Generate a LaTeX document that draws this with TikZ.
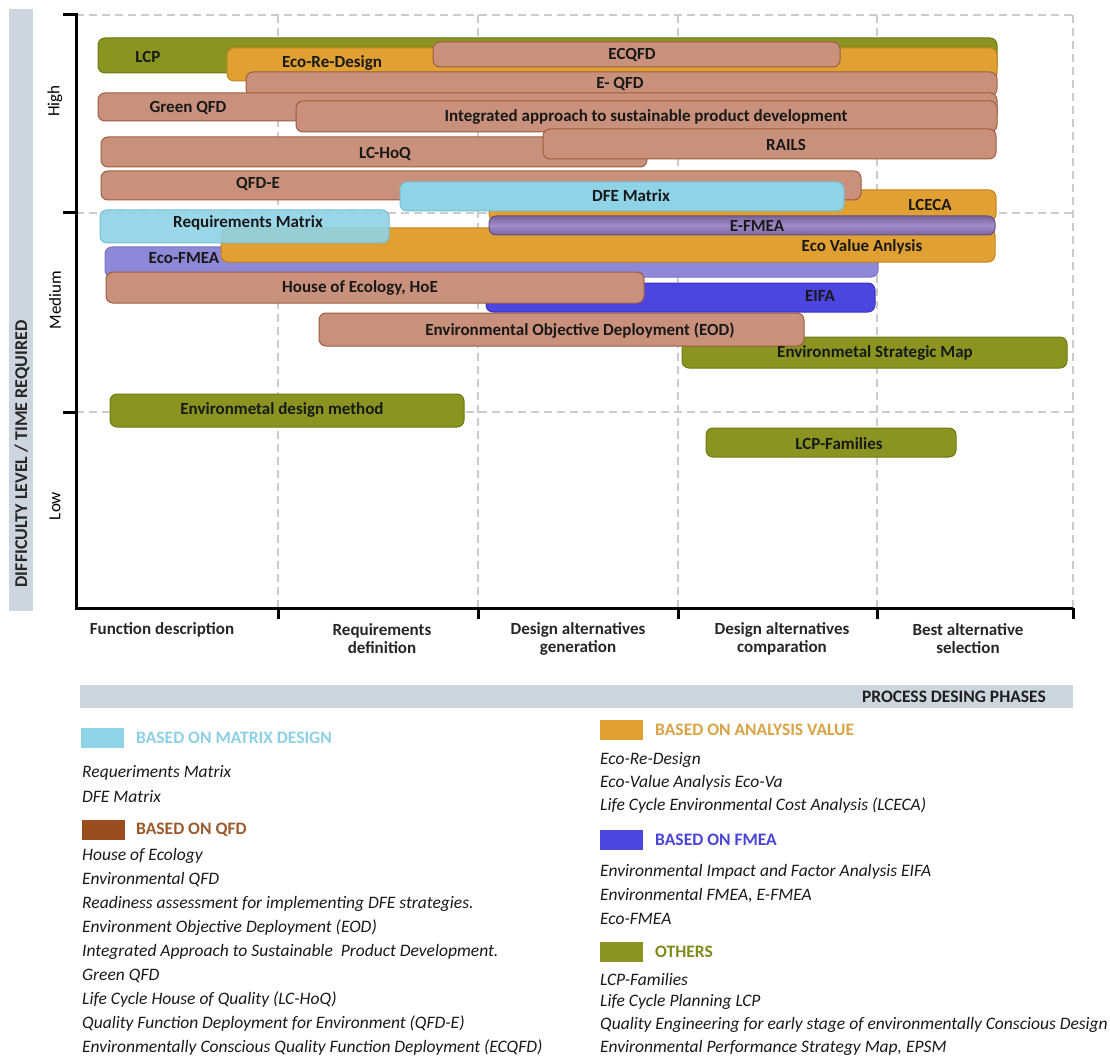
\documentclass[tikz,border=0pt]{standalone}
\usepackage{fontspec}
\setmainfont{Carlito}
\definecolor{qfdfill}{HTML}{C9917B}
\definecolor{qfdline}{HTML}{9C5E42}
\definecolor{valfill}{HTML}{E1A032}
\definecolor{valline}{HTML}{C0841E}
\definecolor{othfill}{HTML}{8A9420}
\definecolor{othline}{HTML}{6E7814}
\definecolor{matfill}{HTML}{8FD3E6}
\definecolor{matline}{HTML}{78BCD2}
\definecolor{efmdark}{HTML}{7A6498}
\definecolor{efmlight}{HTML}{A08CCC}
\definecolor{efmline}{HTML}{634E86}
\definecolor{ecofill}{HTML}{8F88D8}
\definecolor{ecoline}{HTML}{7A72C4}
\definecolor{eifafill}{HTML}{4C45E0}
\definecolor{eifaline}{HTML}{3A33C0}
\definecolor{gridgray}{HTML}{CCCCCC}
\definecolor{bandgray}{HTML}{CDD5DE}
\definecolor{qfdkey}{HTML}{9A4D1E}
\definecolor{qfdtext}{HTML}{9A5A2C}
\definecolor{valtext}{HTML}{D9A245}
\definecolor{mattext}{HTML}{8CCFE6}
\definecolor{fmeatext}{HTML}{4A44D6}
\definecolor{othtext}{HTML}{7E8A1A}
\pgfdeclarelayer{labels}
\pgfsetlayers{main,labels}
% one method bar: name, style, x1, y1, x2, y2, label x, label y, label
\newcommand\methodbar[9]{%
  \node[#2, minimum width={#5pt-#3pt}, minimum height={#6pt-#4pt}]
    (#1) at ({(#3+#5)/2},{(#4+#6)/2}) {};
  \begin{pgfonlayer}{labels}
    \node[barlabel] (#1-label) at (#7,#8) {#9};
  \end{pgfonlayer}}
\begin{document}
\begin{tikzpicture}[x=1pt,y=-1pt,
  gridline/.style={draw=gridgray, line width=1.3pt, dash pattern=on 8pt off 5pt},
  axisline/.style={line width=3pt, line cap=butt},
  tickmark/.style={line width=3pt},
  barbase/.style={rectangle, rounded corners=7pt, inner sep=0pt, outer sep=0pt, line width=1pt},
  qfd/.style={barbase, fill=qfdfill, draw=qfdline},
  val/.style={barbase, fill=valfill, draw=valline},
  oth/.style={barbase, fill=othfill, draw=othline},
  mat/.style={barbase, fill=matfill, draw=matline},
  efm/.style={barbase, draw=efmline, top color=efmdark, bottom color=efmdark, middle color=efmlight},
  ecofm/.style={barbase, fill=ecofill, draw=ecoline},
  eifa/.style={barbase, fill=eifafill, draw=eifaline},
  barlabel/.style={inner sep=0pt, font=\bfseries\fontsize{17}{19}\selectfont, text=black!90},
  phase/.style={inner sep=0pt, align=center, font=\bfseries\fontsize{17}{18}\selectfont, text=black!85},
  level/.style={inner sep=0pt, rotate=90, font=\fontsize{17}{19}\selectfont},
  keybox/.style={inner sep=0pt, minimum width=43pt, minimum height=20pt},
  keytitle/.style={inner sep=0pt, anchor=west, font=\bfseries\fontsize{17.5}{19}\selectfont},
  keyitem/.style={inner sep=0pt, anchor=west, font=\itshape\fontsize{17.5}{19}\selectfont, text=black!90}]
\useasboundingbox (0,0) rectangle (1110,1059);

% dashed grid
\draw[gridline] (76,15) -- (1073,15);
\draw[gridline] (76,213) -- (1073,213);
\draw[gridline] (76,412) -- (1073,412);
\foreach \gx in {278,478,678,877,1073} \draw[gridline] (\gx,15) -- (\gx,608);

% difficulty band
\fill[bandgray] (9,9) rectangle (33,611);
\node[inner sep=0pt, rotate=90, font=\bfseries\fontsize{18}{20}\selectfont, text=black!85] (difficulty) at (22,454) {DIFFICULTY LEVEL / TIME REQUIRED};
\node[level] (high) at (55,101) {High};
\node[level] (medium) at (55,300) {Medium};
\node[level] (low) at (55,506) {Low};

% method bars, back to front
\methodbar{lcp}{oth}{98}{38}{997}{73}{148}{57}{LCP}
\methodbar{ecoredesign}{val}{227}{48}{997}{81}{332}{63}{Eco-Re-Design}
\methodbar{ecqfd}{qfd}{433}{42}{840}{67}{632}{55}{ECQFD}
\methodbar{eqfd}{qfd}{246}{72}{997}{96}{620}{84}{E- QFD}
\methodbar{greenqfd}{qfd}{98}{93}{997}{121}{188}{108}{Green QFD}
\methodbar{integrated}{qfd}{296}{101}{997}{132}{646}{117}{Integrated approach to sustainable product development}
\methodbar{lchoq}{qfd}{101}{137}{647}{167}{385}{154}{LC-HoQ}
\methodbar{rails}{qfd}{543}{129}{996}{159}{786}{145}{RAILS}
\methodbar{lceca}{val}{489}{190}{996}{221}{930}{205}{LCECA}
\methodbar{qfde}{qfd}{101}{171}{861}{200}{258}{184}{QFD-E}
\methodbar{dfe}{mat}{400}{182}{844}{211}{631}{196}{DFE Matrix}
\methodbar{ecofmea}{ecofm}{105}{247}{878}{277}{184}{258}{Eco-FMEA}
\methodbar{ecovalue}{val}{221}{228}{995}{262}{862}{247}{Eco Value Anlysis}
\methodbar{efmea}{efm}{489}{216}{995}{235}{757}{226}{E-FMEA}
\methodbar{reqmatrix}{mat, fill opacity=0.9}{100}{210}{389}{243}{248}{223}{Requirements Matrix}
\methodbar{eifa}{eifa}{486}{283}{875}{312}{820}{296}{EIFA}
\methodbar{hoe}{qfd}{106}{272}{644}{303}{360}{288}{House of Ecology, HoE}
\methodbar{esm}{oth}{682}{337}{1067}{368}{875}{353}{Environmetal Strategic Map}
\methodbar{eod}{qfd}{319}{313}{804}{346}{580}{331}{Environmental Objective Deployment (EOD)}
\methodbar{edm}{oth}{110}{394}{464}{427}{282}{410}{Environmetal design method}
\methodbar{lcpfam}{oth}{706}{428}{956}{457}{839}{444}{LCP-Families}

% axes
\draw[axisline] (76,13.5) -- (76,608) -- (1073,608);
\foreach \ty in {15,213,412} \draw[tickmark] (63,\ty) -- (76,\ty);
\foreach \tx in {278,478,678,877,1073} \draw[tickmark] (\tx,608) -- (\tx,619);

% phase labels
\node[phase] (ph1) at (162,630) {Function description};
\node[phase] (ph2) at (382,639) {Requirements\\definition};
\node[phase] (ph3) at (578,639) {Design alternatives\\generation};
\node[phase] (ph4) at (782,639) {Design alternatives\\comparation};
\node[phase] (ph5) at (968,639) {Best alternative\\selection};

% phase band
\fill[bandgray] (80,685) rectangle (1073,708);
\node[inner sep=0pt, anchor=east, font=\bfseries\fontsize{17.5}{19}\selectfont, text=black!88] (phases) at (1046,697) {PROCESS DESING PHASES};

% key, left column
\node[keybox, fill=matfill] (kmat) at (102,738) {};
\node[keytitle, text=mattext] (kmat-t) at (136,738) {BASED ON MATRIX DESIGN};
\node[keyitem] (m1) at (82,773) {Requeriments Matrix};
\node[keyitem] (m2) at (82,797) {DFE Matrix};
\node[keybox, fill=qfdkey] (kqfd) at (103,830) {};
\node[keytitle, text=qfdtext] (kqfd-t) at (136,830) {BASED ON QFD};
\node[keyitem] (q1) at (82,856) {House of Ecology};
\node[keyitem] (q2) at (82,880) {Environmental QFD};
\node[keyitem] (q3) at (82,904) {Readiness assessment for implementing DFE strategies.};
\node[keyitem] (q4) at (82,928) {Environment Objective Deployment (EOD)};
\node[keyitem] (q5) at (82,952) {Integrated Approach to Sustainable\ \ Product Development.};
\node[keyitem] (q6) at (82,976) {Green QFD};
\node[keyitem] (q7) at (82,1000) {Life Cycle House of Quality (LC-HoQ)};
\node[keyitem] (q8) at (82,1024) {Quality Function Deployment for Environment (QFD-E)};
\node[keyitem] (q9) at (82,1048) {Environmentally Conscious Quality Function Deployment (ECQFD)};

% key, right column
\node[keybox, fill=valfill] (kval) at (621,730) {};
\node[keytitle, text=valtext] (kval-t) at (655,730) {BASED ON ANALYSIS VALUE};
\node[keyitem] (v1) at (600,760) {Eco-Re-Design};
\node[keyitem] (v2) at (600,783) {Eco-Value Analysis Eco-Va};
\node[keyitem] (v3) at (600,806) {Life Cycle Environmental Cost Analysis (LCECA)};
\node[keybox, fill=eifafill] (kfmea) at (621,840) {};
\node[keytitle, text=fmeatext] (kfmea-t) at (655,840) {BASED ON FMEA};
\node[keyitem] (f1) at (600,872) {Environmental Impact and Factor Analysis EIFA};
\node[keyitem] (f2) at (600,896) {Environmental FMEA, E-FMEA};
\node[keyitem] (f3) at (600,919) {Eco-FMEA};
\node[keybox, fill=othfill] (koth) at (621,952) {};
\node[keytitle, text=othtext] (koth-t) at (655,952) {OTHERS};
\node[keyitem] (o1) at (600,979) {LCP-Families};
\node[keyitem] (o2) at (600,1002) {Life Cycle Planning LCP};
\node[keyitem] (o3) at (600,1025) {Quality Engineering for early stage of environmentally Conscious Design};
\node[keyitem] (o4) at (600,1048) {Environmental Performance Strategy Map, EPSM};
\end{tikzpicture}
\end{document}
